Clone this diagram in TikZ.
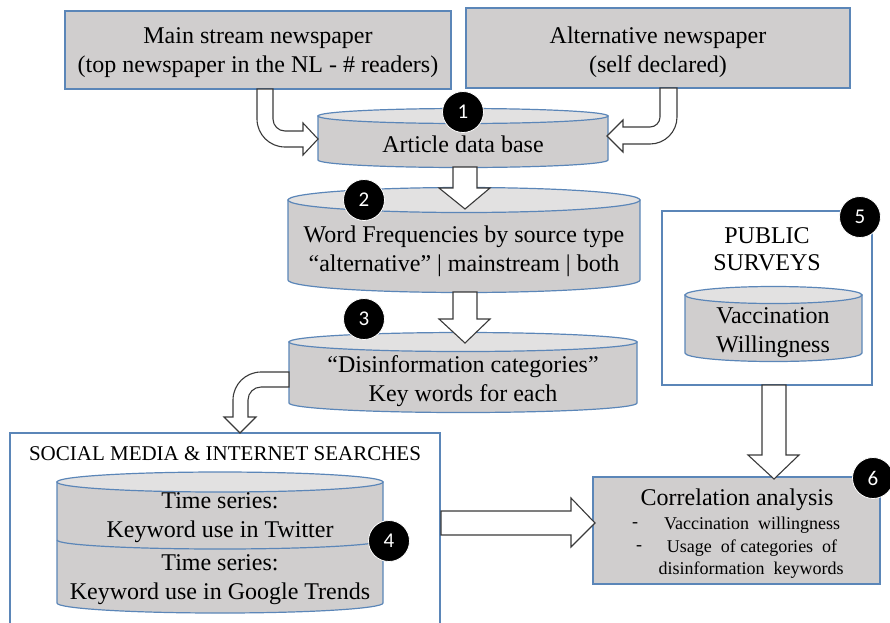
\documentclass[tikz,border=0pt]{standalone}
\usepackage{fontspec}
\setmainfont{Liberation Serif}
\newfontfamily\serif{Liberation Serif}
\newfontfamily\numfont{Carlito}
\definecolor{boxfill}{HTML}{D0CECE}
\definecolor{topfill}{HTML}{E2E1E1}
\definecolor{boxline}{HTML}{5B86B8}
\definecolor{arrline}{HTML}{3A3A3A}
\tikzset{
  boxstyle/.style={fill=boxfill,draw=boxline,line width=1.2pt},
  framestyle/.style={draw=boxline,line width=1.2pt},
  cylbody/.style={fill=boxfill,draw=boxline,line width=1.2pt},
  cyltop/.style={fill=topfill,draw=boxline,line width=1.2pt},
  blockarrow/.style={fill=white,draw=arrline,line width=1.1pt,line join=miter},
  numcircle/.style={circle,fill=black,draw=white,line width=0.8pt,minimum size=41pt,inner sep=0pt,text=white,font=\numfont\fontsize{21}{21}\selectfont},
  maintext/.style={align=center,font=\serif\fontsize{24}{29}\selectfont,inner sep=0pt},
  smalltext/.style={align=center,font=\serif\fontsize{18}{22}\selectfont,inner sep=0pt},
  captext/.style={align=center,font=\serif\fontsize{21}{27}\selectfont,inner sep=0pt}
}
% L R T B ry
\newcommand\mycyl[5]{%
  \pgfmathsetmacro\cylcx{(#1+#2)/2}%
  \pgfmathsetmacro\cylrx{(#2-#1)/2}%
  \path[cylbody] (#1,#3) -- (#1,#4) arc[start angle=180,end angle=0,x radius=\cylrx,y radius=#5] -- (#2,#3) -- cycle;
  \path[cyltop] (\cylcx,#3) ellipse[x radius=\cylrx,y radius=#5];
}
\begin{document}
\begin{tikzpicture}[x=1pt,y=-1pt]
\useasboundingbox (0,0) rectangle (890,622);
\clip (0,0) rectangle (890,622);

% top boxes
\path[boxstyle] (65,11) rectangle (451,89);
\node[maintext] (main) at (258,53) {Main stream newspaper\\(top newspaper in the NL - \# readers)};
\path[boxstyle] (466,8) rectangle (850,88);
\node[maintext] (alt) at (658,52) {Alternative newspaper\\(self declared)};

% cylinder 1
\mycyl{318}{608}{116}{160}{7.5}
\node[maintext] (c1) at (463,144) {Article data base};

% cylinder 2
\mycyl{288}{640}{200}{280}{12.5}
\node[maintext] (c2) at (464,251) {Word Frequencies by source type\\“alternative” | mainstream | both};

% cylinder 3
\mycyl{289}{637}{342}{403}{9.5}
\node[maintext] (c3) at (463,381) {“Disinformation categories”\\Key words for each};

% public surveys frame
\path[framestyle] (662,211) rectangle (872,385);
\node[captext,font=\serif\fontsize{24}{27}\selectfont] (ps) at (767,249) {PUBLIC\\SURVEYS};
\mycyl{685}{862}{295}{353}{8.5}
\node[maintext] (c5) at (773,333) {Vaccination\\Willingness};

% social media frame
\draw[framestyle] (10,640) -- (10,433) -- (440,433) -- (440,640);
\node[captext,anchor=base] (sm) at (225,460) {SOCIAL MEDIA \& INTERNET SEARCHES};
% stacked cylinder 4
\path[cylbody] (57,482) -- (57,603) arc[start angle=180,end angle=0,x radius=163,y radius=10] -- (383,482) -- cycle;
\draw[draw=boxline,line width=1.2pt] (57,540) arc[start angle=180,end angle=0,x radius=163,y radius=9];
\path[cyltop] (220,482) ellipse[x radius=163,y radius=10];
\node[maintext] (c4a) at (220,518) {Time series:\\Keyword use in Twitter};
\node[maintext] (c4b) at (220,580) {Time series:\\Keyword use in Google Trends};

% correlation box
\path[boxstyle] (593,477) rectangle (880,584);
\node[maintext] (corr) at (737,500) {Correlation analysis};
\node[smalltext] (d1) at (635,525) {-};
\node[smalltext] (b1) at (752,525) {Vaccination\ \ willingness};
\node[smalltext] (d2) at (639,548) {-};
\node[smalltext] (b2) at (752,548) {Usage\ \ of\ categories\ \ of};
\node[smalltext] (b3) at (751,570) {disinformation\ \ keywords};

% block arrows
\path[blockarrow] (257,89) -- (257,119) arc[start angle=180,end angle=90,radius=28] -- (303,147) -- (303,155) -- (318,139) -- (303,123) -- (303,131) -- (285,131) arc[start angle=90,end angle=180,radius=12] -- (273,89) -- cycle;
\path[blockarrow] (660,88) -- (660,117) arc[start angle=0,end angle=90,radius=10] -- (623,127) -- (623,120) -- (607,136) -- (623,152) -- (623,144) -- (650,144) arc[start angle=90,end angle=0,radius=27] -- (677,88) -- cycle;
\path[blockarrow] (453,167) -- (453,188) -- (439,188) -- (465,209) -- (490,188) -- (477,188) -- (477,167) -- cycle;
\path[blockarrow] (453,292) -- (453,319) -- (439,319) -- (465,343) -- (490,319) -- (477,319) -- (477,292) -- cycle;
\path[blockarrow] (289,372) -- (261,372) arc[start angle=270,end angle=180,radius=28] -- (233,417) -- (224,417) -- (240,433) -- (256,417) -- (248,417) -- (248,400) arc[start angle=180,end angle=270,radius=13] -- (289,387) -- cycle;
\path[blockarrow] (762,385) -- (762,455) -- (748,455) -- (774,479) -- (799,455) -- (786,455) -- (786,385) -- cycle;
\path[blockarrow] (441,511) -- (571,511) -- (571,498) -- (595,523) -- (571,547) -- (571,535) -- (441,535) -- cycle;

% number circles
\node[numcircle] (n1) at (463,112) {1};
\node[numcircle] (n2) at (364,200) {2};
\node[numcircle] (n3) at (364,319) {3};
\node[numcircle] (n4) at (389,541) {4};
\node[numcircle] (n5) at (860,217) {5};
\node[numcircle] (n6) at (873,478) {6};
\end{tikzpicture}
\end{document}
